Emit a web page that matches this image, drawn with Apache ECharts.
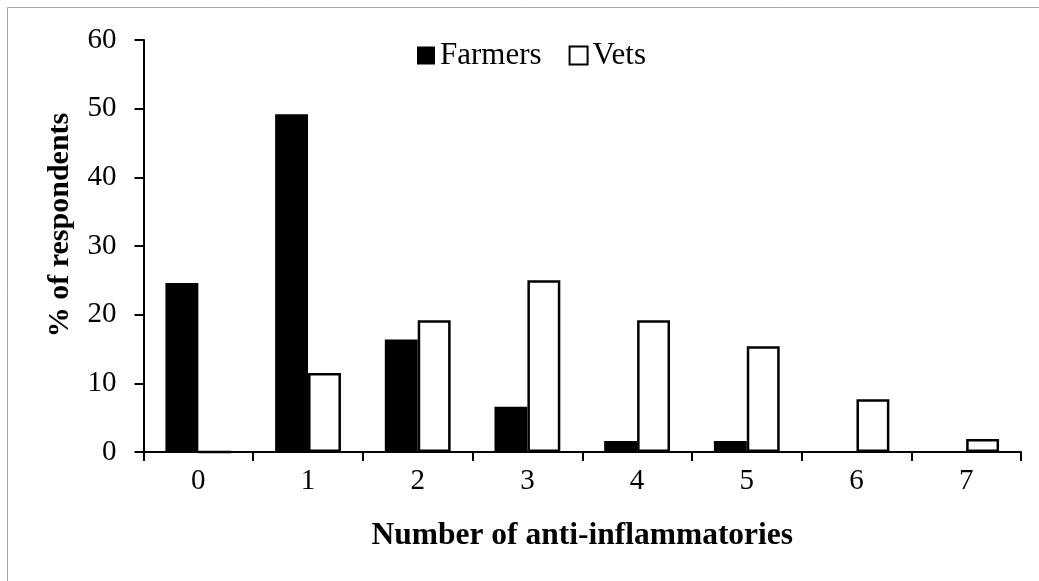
<!DOCTYPE html>
<html>
<head>
<meta charset="utf-8">
<script src="https://cdn.jsdelivr.net/npm/echarts@6/dist/echarts.min.js"></script>
<style>
html,body{margin:0;padding:0;background:#fff;}
#chart{width:1039px;height:581px;}
</style>
</head>
<body>
<div id="chart"></div>
<script>
var categories = ['0','1','2','3','4','5','6','7'];
var farmers = [24.6, 49.2, 16.4, 6.6, 1.6, 1.6, 0, 0];
var vets = [0, 11.5, 19.2, 25.0, 19.2, 15.4, 7.7, 1.9];
var yTicks = [0, 10, 20, 30, 40, 50, 60];

var FONT = 'Liberation Serif';
var chart = echarts.init(document.getElementById('chart'));
chart.setOption({
  animation: false,
  backgroundColor: '#fff',
  textStyle: {fontFamily: FONT, color: '#000'},
  grid: {left: 143.5, right: 18, top: 40, bottom: 129, containLabel: false},
  legend: {
    top: 35, left: 412,
    itemWidth: 18, itemHeight: 18, itemGap: 27,
    icon: 'rect',
    textStyle: {fontFamily: FONT, fontSize: 31, color: '#000'},
    data: ['Farmers', 'Vets']
  },
  xAxis: {
    type: 'category',
    data: categories,
    name: 'Number of anti-inflammatories',
    nameLocation: 'middle',
    nameGap: 68,
    nameTextStyle: {fontFamily: FONT, fontSize: 31.5, fontWeight: 'bold', color: '#000'},
    axisLine: {lineStyle: {color: '#000', width: 2}},
    axisTick: {show: true, inside: false, length: 9, lineStyle: {color: '#000', width: 2}},
    axisLabel: {fontFamily: FONT, fontSize: 29, color: '#000', margin: 15},
    splitLine: {show: false}
  },
  yAxis: {
    type: 'value',
    min: yTicks[0], max: yTicks[yTicks.length-1], interval: 10,
    axisLine: {show: true, lineStyle: {color: '#000', width: 2}},
    axisTick: {show: true, inside: false, length: 9, lineStyle: {color: '#000', width: 2}},
    axisLabel: {fontFamily: FONT, fontSize: 29, color: '#000', margin: 27},
    splitLine: {show: false}
  },
  series: [
    {
      name: 'Farmers', type: 'bar', data: farmers,
      barGap: '0%', barCategoryGap: '40%',
      itemStyle: {color: '#000', borderColor: '#000', borderWidth: 0}
    },
    {
      name: 'Vets', type: 'bar', data: vets,
      barGap: '0%', barCategoryGap: '40%',
      itemStyle: {color: '#fff', borderColor: '#000', borderWidth: 2.5}
    }
  ],
  graphic: [
    {type: 'text', x: 60, y: 225, rotation: Math.PI/2,
     style: {text: '% of respondents', font: 'bold 30px "Liberation Serif"', fill: '#000', textAlign: 'center', textVerticalAlign: 'middle'}},
    {type: 'line', shape: {x1: 7.5, y1: 7.5, x2: 1039, y2: 7.5}, style: {stroke: '#a6a6a6', lineWidth: 1}},
    {type: 'line', shape: {x1: 7.5, y1: 7.5, x2: 7.5, y2: 581}, style: {stroke: '#a6a6a6', lineWidth: 1}}
  ]
});
</script>
</body>
</html>
